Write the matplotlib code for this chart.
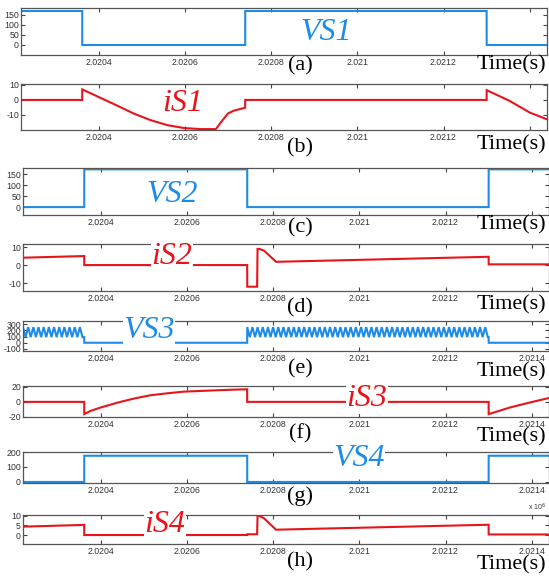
import matplotlib
matplotlib.use("Agg")
import matplotlib.pyplot as plt

W, H = 549, 581
BLUE = "#1e8ce6"
RED = "#e8141b"

# ---- data ----
t_left, t_right = 2.02022, 2.02144
xticks = [2.0204, 2.0206, 2.0208, 2.021, 2.0212, 2.0214]
xtick_labels = ["2.0204", "2.0206", "2.0208", "2.021", "2.0212", "2.0214"]

# switching instants
T1, T2, T3 = 2.020362, 2.02074, 2.0213
d = 1e-7

vs1_t = [t_left, T1, T1 + d, T2, T2 + d, T3, T3 + d, t_right]
vs1_v = [170, 170, 0, 0, 170, 170, 0, 0]

is1_t = [t_left, T1, T1 + d, 2.020405, 2.020444, 2.020481, 2.020521, 2.020560, 2.020598,
         2.020637, 2.020672, 2.020684, 2.020700, 2.020714, T2 - d, T2, T3, T3 + d,
         2.021353, 2.021400, 2.021440]
is1_v = [0, 0, 7, 1.3, -3.9, -9, -13.5, -16.8, -18.7, -19.4, -19.4, -14.8, -9, -7.1, -5.2,
         0, 0, 6.5, -0.6, -8.4, -12.9]

vs2_t = [t_left, T1, T1 + d, T2, T2 + d, T3, T3 + d, t_right]
vs2_v = [0, 0, 172, 172, 0, 0, 172, 172]

is2_t = [t_left, T1, T1 + d, T2, T2 + d, 2.020763, 2.020764, 2.020768, 2.020779, 2.020795,
         2.020807, T3, T3 + d, t_right]
is2_v = [4.1, 5, 0, 0, -12, -12, 9, 9, 8, 4.5, 1.8, 4.6, 0.4, 0.4]

# Vs3: switching ripple while on, zero while off
vs3_on_intervals = [(t_left, T1), (T2, T3)]
vs3_ripple_low, vs3_ripple_high = 90, 250
vs3_ripple_period = 1.2e-5
vs3_off_level = 0

is3_t = [t_left, T1, T1 + d, 2.020377, 2.020400, 2.020440, 2.020477, 2.020516, 2.020556,
         2.020593, 2.020633, 2.020672, 2.020709, T2 - d, T2, T3, T3 + d, 2.021312,
         2.021349, 2.021395, 2.021440]
is3_v = [0, 0, -16.4, -12, -7.6, -0.9, 4.4, 8.9, 11.6, 13.7, 14.7, 15.6, 16.4, 16.9,
         0, 0, -16.4, -14.3, -7.6, -0.9, 5.2]

vs4_t = [t_left, T1, T1 + d, T2, T2 + d, T3, T3 + d, t_right]
vs4_v = [0, 0, 175, 175, 0, 0, 175, 175]

is4_t = [t_left, T1, T1 + d, T2, T2 + d, 2.020763, 2.020764, 2.020768, 2.020779, 2.020795,
         2.020807, T3, T3 + d, t_right]
is4_v = [4.4, 5.3, 0, 0, 0.4, 0.4, 10, 10, 8.8, 5.3, 2.8, 5.4, 0.3, 0.3]


def ripple_trace():
    ts, vs = [], []
    first = True
    for (a, b) in vs3_on_intervals:
        if not first:
            ts.append(a)
            vs.append(vs3_off_level)
            a = a + d
        first = False
        k = 0
        t = a
        last = vs3_ripple_high
        while t < b:
            last = vs3_ripple_high if k % 2 == 0 else vs3_ripple_low
            ts.append(t)
            vs.append(last)
            k += 1
            t = a + k * vs3_ripple_period / 2
        ts.append(b)
        vs.append(last)
        ts.append(b + d)
        vs.append(vs3_off_level)
    ts.append(t_right)
    vs.append(vs3_off_level)
    return ts, vs


vs3_t, vs3_v = ripple_trace()

panels = [
    # (t, v, color, ylim, yticks, left, right, top, bottom)
    (vs1_t, vs1_v, BLUE, (-50, 185), [0, 50, 100, 150], 21, 547, 8, 55),
    (is1_t, is1_v, RED, (-20, 10.6), [-10, 0, 10], 21, 547, 84, 130),
    (vs2_t, vs2_v, BLUE, (-36, 178), [0, 50, 100, 150], 23, 549, 168, 215),
    (is2_t, is2_v, RED, (-14.4, 11.7), [-10, 0, 10], 23, 549, 244, 291),
    (vs3_t, vs3_v, BLUE, (-132, 348), [-100, 0, 100, 200, 300], 23, 549, 321, 351),
    (is3_t, is3_v, RED, (-20.3, 21.3), [-20, 0, 20], 23, 549, 386, 417),
    (vs4_t, vs4_v, BLUE, (-7, 200), [0, 100, 200], 23, 549, 452, 483),
    (is4_t, is4_v, RED, (-4.7, 10.5), [0, 5, 10], 23, 549, 515, 544),
]

fig = plt.figure(figsize=(W / 100, H / 100), dpi=100)
fig.patch.set_facecolor("white")

tick_family = ["Liberation Sans Narrow", "Liberation Sans"]
tick_size = 6.3

for i, (t, v, c, yl, yt, l, r, tp, bt) in enumerate(panels):
    ax = fig.add_axes([l / W, 1 - bt / H, (r - l) / W, (bt - tp) / H])
    ax.plot(t, v, color=c, lw=1.5, solid_joinstyle="miter")
    ax.set_xlim(t_left, t_right)
    ax.set_ylim(*yl)
    ax.set_xticks(xticks)
    labs = list(xtick_labels)
    if i < 4:
        labs[-1] = ""
    ax.set_xticklabels(labs)
    ax.set_yticks(yt)
    ax.set_yticklabels([str(y) for y in yt])
    for lab in ax.get_xticklabels() + ax.get_yticklabels():
        lab.set_fontfamily(tick_family)
        lab.set_fontsize(tick_size)
        lab.set_color("#333333")
    ax.tick_params(direction="in", length=3, width=0.8, color="#444444",
                   top=True, right=True, pad=2.5)
    ax.tick_params(axis="y", pad=1.5)
    for s in ax.spines.values():
        s.set_color("#555555")
        s.set_linewidth(0.9)


def ftext(x, y, s, **kw):
    fig.text(x / W, 1 - y / H, s, ha="center", va="center", **kw)


serif = ["Liberation Serif", "DejaVu Serif"]
sig_kw = dict(family=serif, style="italic", size=23)
bg = dict(facecolor="white", edgecolor="none", pad=0.5)

ftext(326, 32, "VS1", color=BLUE, **sig_kw)
ftext(183, 104, "iS1", color=RED, **sig_kw)
ftext(172, 194, "VS2", color=BLUE, **sig_kw)
ftext(172, 257, "iS2", color=RED, bbox=bg, **sig_kw)
ftext(149, 330, "VS3", color=BLUE, bbox=bg, **sig_kw)
ftext(367, 399, "iS3", color=RED, bbox=bg, **sig_kw)
ftext(359, 458, "VS4", color=BLUE, bbox=bg, **sig_kw)
ftext(165, 525, "iS4", color=RED, bbox=bg, **sig_kw)

panel_labels = ["(a)", "(b)", "(c)", "(d)", "(e)", "(f)", "(g)", "(h)"]
panel_label_y = [66, 148, 228, 308, 369, 434, 496, 562]
for s, y in zip(panel_labels, panel_label_y):
    ftext(300, y, s, family=serif, size=16, color="black")

time_label_y = [65, 145, 225, 305, 372, 437, None, 565]
for y in time_label_y:
    if y is not None:
        ftext(511, y, "Time(s)", family=serif, size=16, color="black")

ftext(537, 507, r"x 10$^6$", family=["Liberation Sans", "DejaVu Sans"], size=5, color="#333333")

fig.savefig("out.png", dpi=100, facecolor="white")
